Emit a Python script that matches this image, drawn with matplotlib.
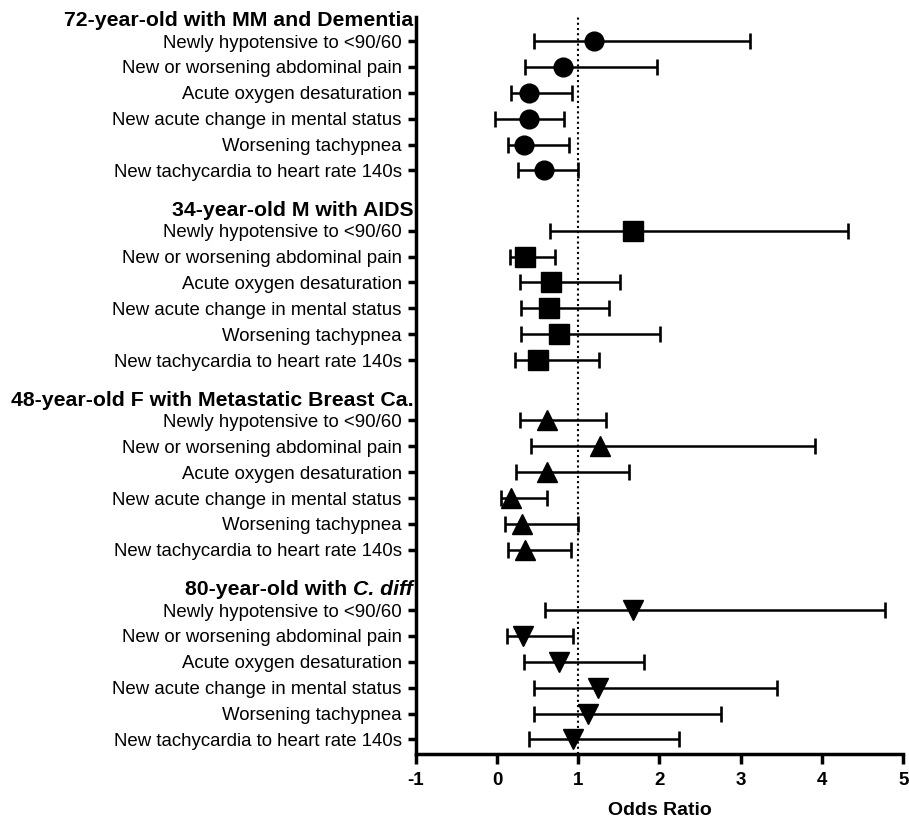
import matplotlib
matplotlib.use('Agg')
import matplotlib.pyplot as plt
import numpy as np

plt.rcParams['font.family'] = ['Liberation Sans', 'DejaVu Sans']

# data
outcomes = [
    "Newly hypotensive to <90/60",
    "New or worsening abdominal pain",
    "Acute oxygen desaturation",
    "New acute change in mental status",
    "Worsening tachypnea",
    "New tachycardia to heart rate 140s",
]

group_names = [
    "72-year-old with MM and Dementia",
    "34-year-old M with AIDS",
    "48-year-old F with Metastatic Breast Ca.",
    "80-year-old with ",
]
group_markers = ['o', 's', '^', 'v']

mm_or = [1.20, 0.81, 0.39, 0.40, 0.33, 0.58]
mm_lo = [0.45, 0.34, 0.17, -0.03, 0.13, 0.26]
mm_hi = [3.12, 1.97, 0.92, 0.83, 0.89, 1.00]

aids_or = [1.67, 0.34, 0.66, 0.64, 0.76, 0.51]
aids_lo = [0.65, 0.16, 0.28, 0.30, 0.29, 0.22]
aids_hi = [4.32, 0.72, 1.51, 1.38, 2.01, 1.26]

breast_or = [0.61, 1.27, 0.61, 0.17, 0.31, 0.34]
breast_lo = [0.28, 0.42, 0.23, 0.05, 0.10, 0.13]
breast_hi = [1.34, 3.91, 1.63, 0.61, 1.00, 0.91]

cdiff_or = [1.67, 0.32, 0.76, 1.24, 1.12, 0.93]
cdiff_lo = [0.59, 0.12, 0.33, 0.45, 0.46, 0.40]
cdiff_hi = [4.78, 0.93, 1.81, 3.45, 2.76, 2.24]

est = [mm_or, aids_or, breast_or, cdiff_or]
lows = [mm_lo, aids_lo, breast_lo, cdiff_lo]
highs = [mm_hi, aids_hi, breast_hi, cdiff_hi]

fig = plt.figure(figsize=(9.09, 8.19), dpi=100)
ax = fig.add_axes([0.4573, 0.0794, 0.5364, 0.8996])

group_step = 7.33
ytick_pos = []
ytick_lab = []
headers = []
for g in range(4):
    y = g * group_step + np.arange(6)
    e = np.array(est[g])
    lo = np.array(lows[g])
    hi = np.array(highs[g])
    ax.errorbar(e, y, xerr=[e - lo, hi - e], fmt='none', ecolor='black',
                elinewidth=1.8, capsize=6, capthick=1.9, zorder=2)
    ms = 13.5 if group_markers[g] == 'o' else 14
    ax.plot(e, y, linestyle='none', marker=group_markers[g], color='black',
            markersize=ms, zorder=3)
    ytick_pos += list(y)
    ytick_lab += outcomes
    headers.append(g * group_step - 0.78)

ax.axvline(1, color='black', linestyle=(0, (1, 1.5)), linewidth=1.5, zorder=1)

ax.set_xlim(-1, 5)
ax.set_ylim(27.55, -0.92)
ax.set_xticks(np.arange(-1, 6))
ax.set_xticklabels([str(v) for v in range(-1, 6)], fontweight='bold', fontsize=13.5)
ax.set_yticks(ytick_pos)
ax.set_yticklabels(ytick_lab, fontsize=13.4)

ax.spines['top'].set_visible(False)
ax.spines['right'].set_visible(False)
ax.spines['left'].set_linewidth(2.5)
ax.spines['bottom'].set_linewidth(2.5)
ax.tick_params(axis='y', length=6, width=2.5, pad=4)
ax.tick_params(axis='x', length=7, width=2.5, pad=6)

ax.set_xlabel("Odds Ratio", fontweight='bold', fontsize=14, labelpad=9)

trans = matplotlib.transforms.blended_transform_factory(ax.transAxes, ax.transData)
for g in range(3):
    ax.text(-0.005, headers[g], group_names[g], transform=trans, ha='right',
            va='center', fontsize=15.3, fontweight='bold')
t_it = ax.text(-0.005, headers[3], "C. diff", transform=trans, ha='right',
               va='center', fontsize=15.3, fontweight='bold', style='italic')
ax.annotate(group_names[3], xy=(0, 0.5), xycoords=t_it, ha='right', va='center',
            fontsize=15.3, fontweight='bold')

plt.savefig('out.png', dpi=100)
plt.close()
